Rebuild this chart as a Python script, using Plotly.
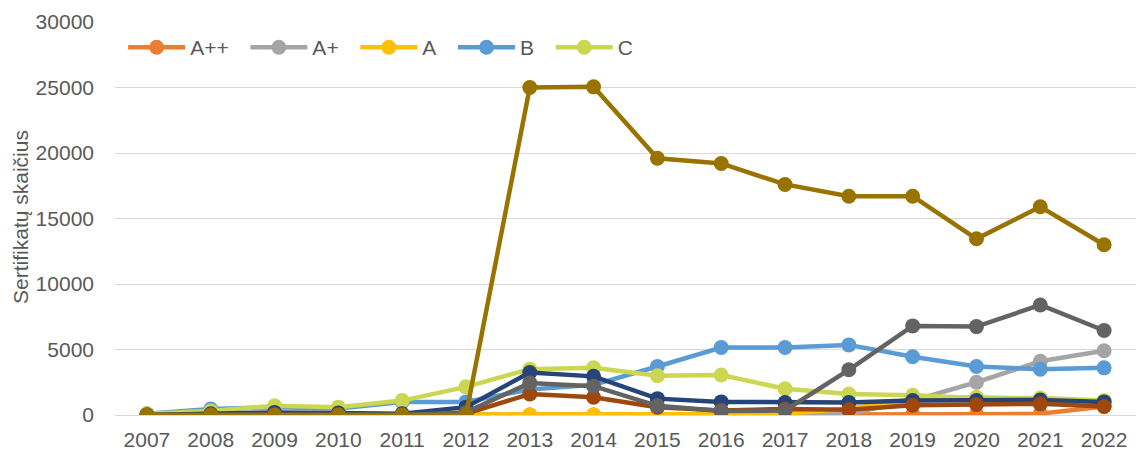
import plotly.graph_objects as go

years = list(range(2007, 2023))
series_names = ["A++", "A+", "A", "B", "C", "D", "E", "F", "G"]
colors = ["#ED7D31", "#A5A5A5", "#FFC000", "#5B9BD5", "#CBD651",
          "#264478", "#9E480E", "#636363", "#997300"]

A_pp = [0, 0, 0, 0, 0, 0, 0, 0, 0, 0, 0, 0, 50, 50, 100, 650]
A_p = [0, 0, 0, 0, 0, 0, 0, 0, 0, 0, 50, 100, 1100, 2500, 4100, 4900]
A_ = [0, 0, 0, 0, 0, 0, 0, 0, 0, 50, 100, 500, 1200, 1350, 1200, 1000]
B = [100, 450, 600, 500, 1000, 1000, 1950, 2300, 3700, 5150, 5150, 5350, 4450, 3700, 3500, 3600]
C = [100, 300, 700, 600, 1100, 2150, 3500, 3600, 3000, 3050, 2000, 1600, 1500, 1300, 1300, 1100]
D = [0, 100, 200, 150, 100, 600, 3250, 2950, 1250, 1000, 950, 950, 1100, 1100, 1150, 1000]
E = [0, 0, 0, 0, 0, 100, 1600, 1350, 600, 350, 450, 400, 750, 800, 850, 650]
F = [0, 0, 0, 0, 0, 200, 2450, 2200, 700, 300, 350, 3450, 6800, 6750, 8400, 6450]
G = [0, 0, 0, 0, 0, 0, 25000, 25050, 19600, 19200, 17600, 16700, 16700, 13450, 15900, 13000]

data = [A_pp, A_p, A_, B, C, D, E, F, G]
legend_names = ["A++", "A+", "A", "B", "C"]

FONT = "Liberation Sans, Arial, sans-serif"
fig = go.Figure()
for name, vals, col in zip(series_names, data, colors):
    fig.add_trace(go.Scatter(
        x=years, y=vals, name=name + ("\u00a0\u00a0" if name in legend_names else ""),
        mode="lines+markers",
        line=dict(color=col, width=4.5),
        marker=dict(color=col, size=15),
        showlegend=name in legend_names,
    ))

fig.update_layout(
    width=1138, height=442,
    margin=dict(l=107, r=10, t=14, b=35),
    paper_bgcolor="white", plot_bgcolor="white",
    font=dict(family=FONT, size=21, color="#595959"),
    legend=dict(orientation="h", x=0.008, y=0.935, xanchor="left", yanchor="middle",
                font=dict(size=21, color="#595959"), bgcolor="rgba(0,0,0,0)",
                itemwidth=57, tracegroupgap=0),
    xaxis=dict(range=[2006.5, 2022.5], tickmode="array", tickvals=years,
               ticktext=[str(y) for y in years], showgrid=False,
               showline=True, linecolor="#D9D9D9", linewidth=1,
               ticks="", ticklabelstandoff=6, zeroline=False, automargin=False),
    yaxis=dict(range=[0, 30000], tickvals=[0, 5000, 10000, 15000, 20000, 25000, 30000],
               ticktext=["0", "5000", "10000", "15000", "20000", "25000", "30000"],
               showgrid=True, gridcolor="#D9D9D9", gridwidth=1, zeroline=False,
               ticks="", ticklabelstandoff=20, automargin=False),
    annotations=[dict(text="Sertifikatų skaičius", xref="paper", yref="paper",
                      x=-(107 - 13) / 1021, y=0.504, xanchor="center", yanchor="middle",
                      textangle=-90, showarrow=False, borderpad=0,
                      font=dict(family=FONT, size=21, color="#595959"))],
)

fig.write_html("out.html")
